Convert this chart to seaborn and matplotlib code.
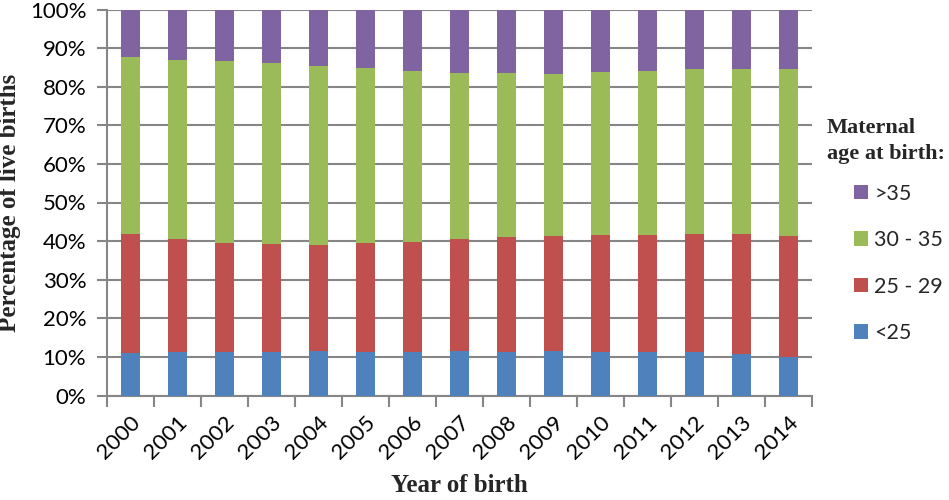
import matplotlib
matplotlib.use("Agg")
import matplotlib.pyplot as plt
from matplotlib.patches import Patch
from matplotlib.ticker import FixedLocator, PercentFormatter
import numpy as np
import pandas as pd
import seaborn as sns

years = [str(y) for y in range(2000, 2015)]
under25 = [11.0, 11.3, 11.3, 11.3, 11.5, 11.3, 11.3, 11.5, 11.3, 11.4, 11.3, 11.3, 11.2, 10.8, 10.1]
age25_29 = [30.8, 29.2, 28.3, 27.9, 27.5, 28.1, 28.5, 29.0, 29.7, 29.9, 30.3, 30.2, 30.6, 31.0, 31.3]
age30_35 = [45.9, 46.5, 47.1, 46.9, 46.4, 45.4, 44.3, 43.0, 42.5, 42.0, 42.2, 42.6, 42.7, 42.9, 43.2]
over35 = [12.3, 13.0, 13.3, 13.9, 14.6, 15.2, 15.9, 16.5, 16.5, 16.7, 16.2, 15.9, 15.5, 15.3, 15.4]

groups = ["<25", "25 - 29", "30 - 35", ">35"]
colors = {"<25": "#4F81BD", "25 - 29": "#C0504D", "30 - 35": "#9BBB59", ">35": "#8064A2"}

df = pd.DataFrame({"year": years, "<25": under25, "25 - 29": age25_29,
                   "30 - 35": age30_35, ">35": over35})
cum = df[groups].cumsum(axis=1)
cum["year"] = df["year"]

sns.set_theme(style="white")
plt.rcParams["font.family"] = ["Lato", "DejaVu Sans"]

fig = plt.figure(figsize=(9.49, 5.0), dpi=100)
ax = fig.add_axes([0.1128, 0.209, 0.8556 - 0.1128, 0.981 - 0.209])

grid_c = "#868686"
ax.set_axisbelow(True)
ax.yaxis.grid(True, color=grid_c, linewidth=1.5)

for g in reversed(groups):
    sns.barplot(data=cum, x="year", y=g, color=colors[g], width=0.39,
                saturation=1, ax=ax, zorder=3, linewidth=0, edgecolor="none")

ax.set_ylim(0, 100)
ax.set_xlim(-0.5, len(years) - 0.5)
ax.yaxis.set_major_locator(FixedLocator(np.arange(0, 101, 10)))
ax.yaxis.set_major_formatter(PercentFormatter(decimals=0))

for s in ["top", "right"]:
    ax.spines[s].set_visible(False)
for s in ["left", "bottom"]:
    ax.spines[s].set_color(grid_c)
    ax.spines[s].set_linewidth(1.5)

ax.tick_params(axis="y", which="major", left=True, length=7, width=1.5,
               color=grid_c, labelsize=16, pad=8, labelcolor="black")
ax.set_xticks(range(len(years)))
ax.set_xticklabels(years, rotation=45, ha="right", va="top",
                   rotation_mode="anchor", fontsize=16)
ax.tick_params(axis="x", which="major", bottom=False, pad=6, labelcolor="black")
ax.set_xticks(np.arange(-0.5, len(years), 1), minor=True)
ax.tick_params(axis="x", which="minor", bottom=True, length=8, width=1.5,
               color=grid_c)

serif = ["Liberation Serif", "DejaVu Serif"]
ax.set_xlabel("Year of birth", fontsize=18, fontweight="bold", family=serif,
              labelpad=8)
ax.set_ylabel("Percentage of live births", fontsize=18, fontweight="bold",
              family=serif, labelpad=6)

fig.text(827 / 949, 1 - 118 / 500, "Maternal\nage at birth:", fontsize=16,
         fontweight="bold", family=serif, ha="left", va="top",
         linespacing=1.4)

handles = [Patch(facecolor=colors[g], edgecolor="none", label=g)
           for g in reversed(groups)]
leg = fig.legend(handles=handles, loc="upper left",
                 bbox_to_anchor=(843 / 949, 1 - 173 / 500), frameon=False,
                 fontsize=15.5, handlelength=0.65, handleheight=0.65,
                 handletextpad=0.3, labelspacing=1.23, borderpad=0)

fig.savefig("out.png", dpi=100)
